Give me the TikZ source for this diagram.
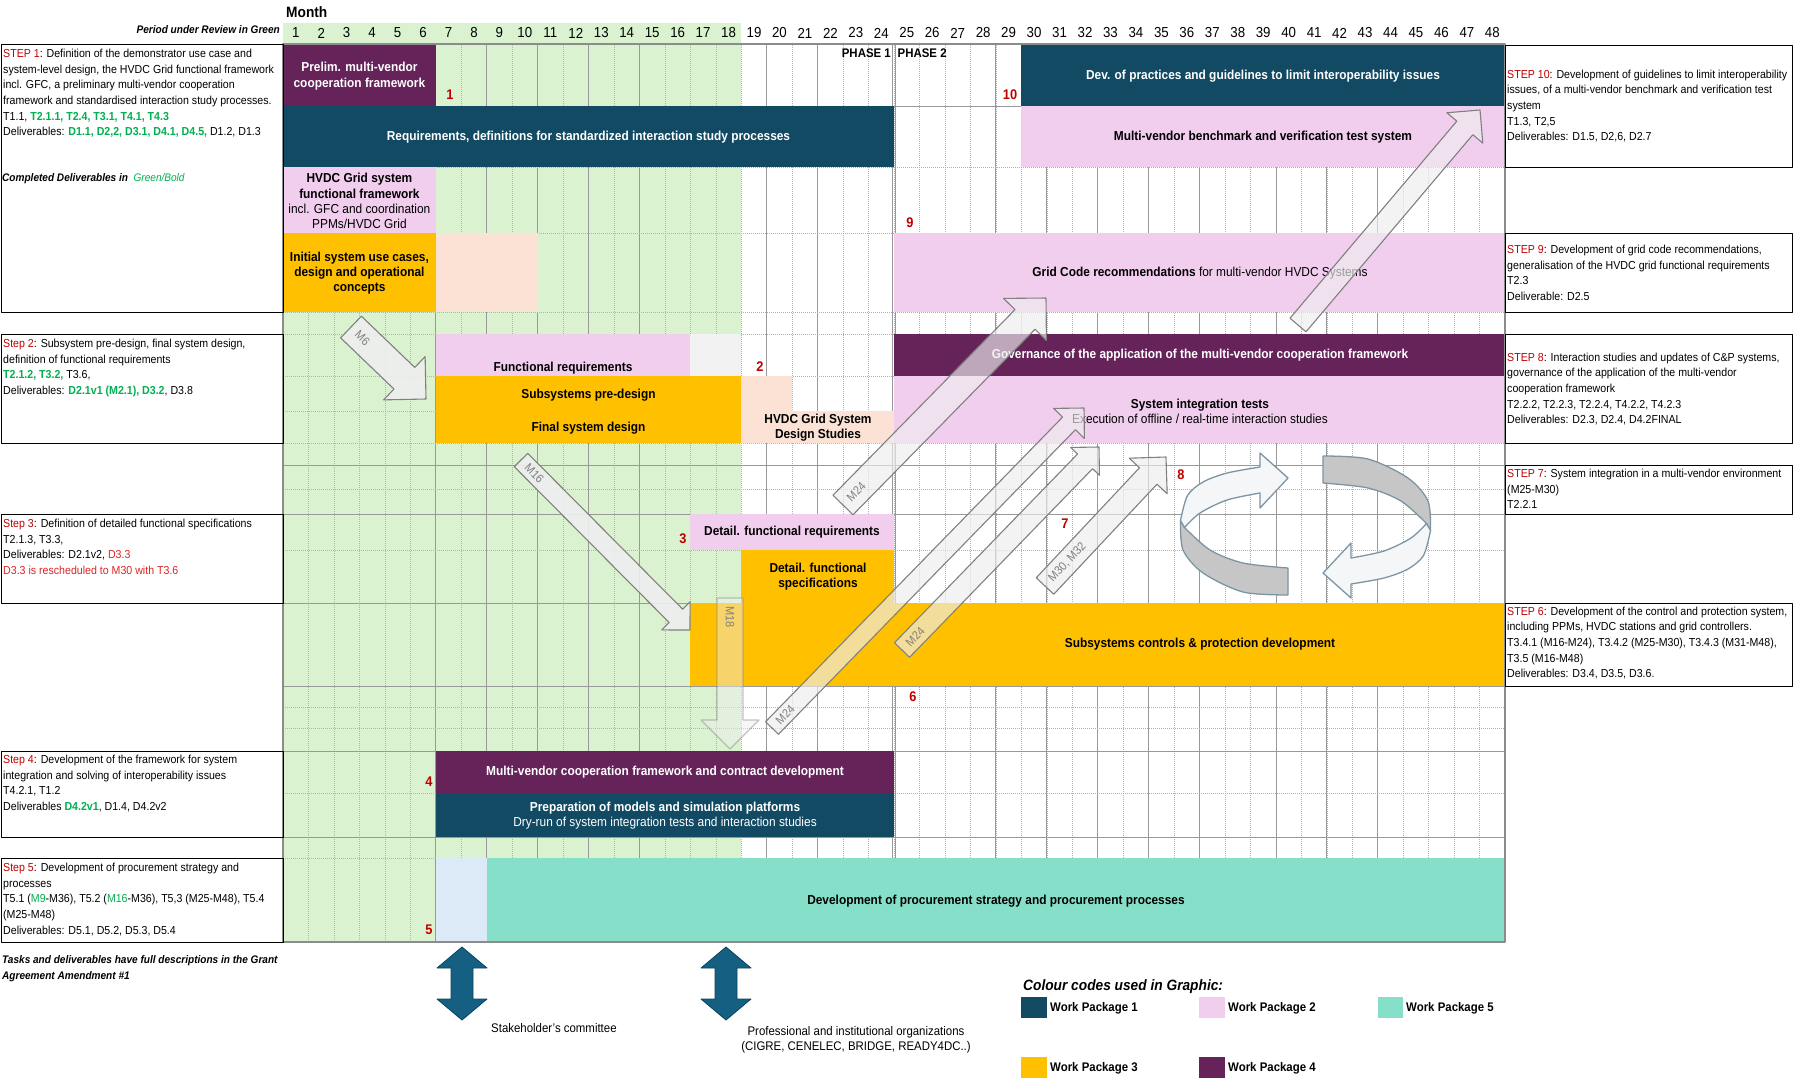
\documentclass[tikz,border=0pt]{standalone}
\usepackage{fontspec}
\setmainfont{Liberation Sans}[FakeStretch=0.915]
\usetikzlibrary{calc}

\definecolor{wpone}{HTML}{124A64}
\definecolor{wptwo}{HTML}{F1CEEE}
\definecolor{wpthree}{HTML}{FFC000}
\definecolor{wpfour}{HTML}{66235A}
\definecolor{wpfive}{HTML}{86E0C9}
\definecolor{review}{HTML}{DAF2D0}
\definecolor{peach}{HTML}{FBE2D5}
\definecolor{paleblue}{HTML}{DCEAF7}
\definecolor{palegray}{HTML}{F2F2F2}
\definecolor{stepred}{HTML}{C00000}
\definecolor{latered}{HTML}{E02424}
\definecolor{donegreen}{HTML}{00B050}
\definecolor{linkblue}{HTML}{156082}
\definecolor{cycleedge}{HTML}{7D95A3}
\definecolor{cyclefill}{HTML}{F4F6F8}

\newcommand{\stp}[1]{\textcolor{stepred}{#1}}
\newcommand{\donetxt}[1]{\textcolor{donegreen}{\bfseries #1}}

\tikzset{
  gridminor/.style={draw=gray!60, line width=0.6pt, dash pattern=on 1pt off 1pt},
  gridmajor/.style={draw=gray!80, line width=0.8pt},
  gridframe/.style={draw=gray!90, line width=2.4pt},
  stepframe/.style={draw=black, line width=1pt},
  monthnum/.style={font=\fontsize{14.5}{16}\selectfont, inner sep=0pt},
  bartext/.style={font=\fontsize{13}{15.3}\selectfont\bfseries, align=center, inner sep=0pt},
  barwhite/.style={bartext, text=white},
  steptext/.style={font=\fontsize{11.6}{15.6}\selectfont, align=left, inner sep=1pt},
  stepnum/.style={font=\fontsize{14}{16}\selectfont\bfseries, text=stepred, inner sep=0pt},
  milearrow/.style={draw=gray, fill=gray!13, line width=1.1pt},
  milelabel/.style={font=\fontsize{12}{13}\selectfont, text=gray, inner sep=1pt},
  cyclelight/.style={draw=cycleedge, fill=cyclefill, line width=1.3pt},
  cyclegray/.style={draw=cycleedge, fill=gray!45, line width=1.3pt},
  linkarrow/.style={draw=linkblue!70!black, fill=linkblue, line width=0.8pt},
  notetext/.style={font=\fontsize{11}{16}\selectfont\bfseries\itshape, align=left, inner sep=0pt},
  legendtext/.style={font=\fontsize{12.5}{14}\selectfont\bfseries, anchor=west, inner sep=0pt},
}

% block arrow: tail, tip, shaft half width, head half width, label, opacity
\newcommand{\milestone}[6]{%
  \coordinate (mt) at #1; \coordinate (mp) at #2;
  \coordinate (mh) at ($(mp)!#4pt!(mt)$);
  \filldraw[milearrow, #6]
    ($(mt)!#3pt!90:(mp)$) -- ($(mh)!#3pt!90:(mp)$) -- ($(mh)!#4pt!90:(mp)$) -- (mp)
    -- ($(mh)!#4pt!-90:(mp)$) -- ($(mh)!#3pt!-90:(mp)$) -- ($(mt)!#3pt!-90:(mp)$) -- cycle;
  \if\relax\detokenize{#5}\relax\else
  \path let \p1=($(mp)-(mt)$) in
    node[milelabel, rotate={atan2(\y1,\x1)}, anchor=west] at ($(mt)!7pt!(mp)$) {#5};
  \fi
}

\begin{document}
\begin{tikzpicture}[x=1pt, y=-1pt, line join=round]
\useasboundingbox (0,0) rectangle (1794,1080);
\fill[white] (0,0) rectangle (1794,1080);

% header
\node[anchor=west, font=\fontsize{15}{17}\selectfont\bfseries, inner sep=0pt] (month) at (286,12) {Month};
\node[anchor=east, font=\fontsize{11}{13}\selectfont\bfseries\itshape, inner sep=0pt] (period) at (280,30) {Period under Review in Green};
\fill[review] (283,23) rectangle (741.3,942);
\foreach \m in {1,...,48}
  \node[monthnum] (m\m) at ({283+(\m-0.5)*25.46},33) {\m};

% grid
\foreach \k in {1,...,47}
  \draw[gridminor] ({283+\k*25.46},45) -- ({283+\k*25.46},942);
\foreach \k in {6,8,10,12,14,19,21,28,30,32,34,36,39,41,43}
  \draw[gridmajor] ({283+\k*25.46},45) -- ({283+\k*25.46},942);
\foreach \y in {167,233,312,334,376,411,443,489,550,707,728,793,858}
  \draw[gridminor] (283,\y) -- (1505,\y);
\foreach \y in {106,465,514,603,686,751,837}
  \draw[gridmajor] (283,\y) -- (1505,\y);
\draw[gridmajor] (892.5,45) -- (892.5,942) (895.5,45) -- (895.5,942);

% bars
\fill[wpfour] (283,45) rectangle (435.8,106);
\node[barwhite] (prelim) at (359.4,76) {Prelim. multi-vendor\\cooperation framework};
\fill[wpone] (1021.3,45) rectangle (1505,106);
\node[barwhite] (devprac) at (1263,76) {Dev. of practices and guidelines to limit interoperability issues};
\fill[wpone] (283,106) rectangle (894,167);
\node[barwhite] (req) at (588.5,137) {Requirements, definitions for standardized interaction study processes};
\fill[wptwo] (1021.3,106) rectangle (1505,167);
\node[bartext] (bench) at (1263,137) {Multi-vendor benchmark and verification test system};
\fill[wptwo] (283,167) rectangle (435.8,233);
\node[bartext] (gridfw) at (359.4,201) {HVDC Grid system\\functional framework\\{\mdseries incl. GFC and coordination}\\{\mdseries PPMs/HVDC Grid}};
\fill[wpthree] (283,233) rectangle (435.8,312);
\node[bartext] (initial) at (359.4,273) {Initial system use cases,\\design and operational\\concepts};
\fill[peach] (435.8,233) rectangle (537.6,312);
\fill[wptwo] (894,233) rectangle (1505,312);
\node[bartext] (gridcode) at (1200,273) {Grid Code recommendations {\mdseries for multi-vendor HVDC Systems}};
\fill[wptwo] (435.8,334) rectangle (690.4,376);
\node[bartext] (funcreq) at (563,368) {Functional requirements};
\fill[palegray] (690.4,334) rectangle (741.3,376);
\fill[wpfour] (894,334) rectangle (1505,376);
\node[barwhite] (gov) at (1200,355) {Governance of the application of the multi-vendor cooperation framework};
\fill[wpthree] (435.8,376) rectangle (741.3,443);
\node[bartext] (predesign) at (588.5,395) {Subsystems pre-design};
\node[bartext] (finaldesign) at (588.5,428) {Final system design};
\fill[peach] (741.3,376) -- (792.2,376) -- (792.2,411) -- (894,411) -- (894,443) -- (741.3,443) -- cycle;
\node[bartext] (gridstudy) at (818,427.5) {HVDC Grid System\\Design Studies};
\fill[wptwo] (894,376) rectangle (1505,443);
\node[bartext] (sysint) at (1200,411) {System integration tests\\{\mdseries Execution of offline / real-time interaction studies}};
\fill[wptwo] (690.4,514) rectangle (894,550);
\node[bartext] (detreq) at (792,532) {Detail. functional requirements};
\fill[wpthree] (741.3,550) rectangle (894,603);
\node[bartext] (detspec) at (818,576.5) {Detail. functional\\specifications};
\fill[wpthree] (690.4,603) rectangle (1505,686);
\node[bartext] (controls) at (1200,644) {Subsystems controls \& protection development};
\fill[wpfour] (435.8,751) rectangle (894,793);
\node[barwhite] (coop) at (665,772) {Multi-vendor cooperation framework and contract development};
\fill[wpone] (435.8,793) rectangle (894,837);
\node[barwhite] (prep) at (665,815.5) {Preparation of models and simulation platforms\\{\mdseries Dry-run of system integration tests and interaction studies}};
\fill[paleblue] (435.8,858) rectangle (486.7,942);
\fill[wpfive] (486.7,858) rectangle (1505,942);
\node[bartext] (procure) at (996,901) {Development of procurement strategy and procurement processes};

\draw[gridframe] (283,44) rectangle (1505,942);

% phases and step numbers
\node[anchor=east, font=\fontsize{12.5}{14}\selectfont\bfseries, inner sep=0pt] (phaseone) at (891,53) {PHASE 1};
\node[anchor=west, font=\fontsize{12.5}{14}\selectfont\bfseries, inner sep=0pt] (phasetwo) at (897.5,53) {PHASE 2};
\node[stepnum] (n1) at (450,95) {1};
\node[stepnum] (n10) at (1010,95) {10};
\node[stepnum] (n9) at (910,223) {9};
\node[stepnum] (n2) at (760,367) {2};
\node[stepnum] (n3) at (683,539) {3};
\node[stepnum] (n7) at (1065,524) {7};
\node[stepnum] (n8) at (1181,475) {8};
\node[stepnum] (n6) at (913,697) {6};
\node[stepnum] (n4) at (429,782) {4};
\node[stepnum] (n5) at (429,930) {5};

% left step boxes
\draw[stepframe] (1,44) rectangle (283,312);
\draw[stepframe] (1,334) rectangle (283,443);
\draw[stepframe] (1,514) rectangle (283,603);
\draw[stepframe] (1,751) rectangle (283,837);
\draw[stepframe] (1,858) rectangle (283,942);
\node[steptext, anchor=north west] (stepone) at (2,48) {\stp{STEP 1}: Definition of the demonstrator use case and\\system-level design, the HVDC Grid functional framework\\incl. GFC, a preliminary multi-vendor cooperation\\framework and standardised interaction study processes.\\T1.1, \donetxt{T2.1.1, T2.4, T3.1, T4.1, T4.3}\\Deliverables: \donetxt{D1.1, D2,2, D3.1, D4.1, D4.5,} D1.2, D1.3};
\node[notetext, anchor=west] (completed) at (2,179) {Completed Deliverables in \ \textcolor{donegreen}{\mdseries Green/Bold}};
\node[steptext, anchor=north west] (steptwo) at (2,338) {\stp{Step 2}: Subsystem pre-design, final system design,\\definition of functional requirements\\\donetxt{T2.1.2, T3.2,} T3.6,\\Deliverables: \donetxt{D2.1v1 (M2.1), D3.2}, D3.8};
\node[steptext, anchor=north west] (stepthree) at (2,518) {\stp{Step 3}: Definition of detailed functional specifications\\T2.1.3, T3.3,\\Deliverables: D2.1v2, \textcolor{latered}{D3.3}\\\textcolor{latered}{D3.3 is rescheduled to M30 with T3.6}};
\node[steptext, anchor=north west] (stepfour) at (2,754) {\stp{Step 4}: Development of the framework for system\\integration and solving of interoperability issues\\T4.2.1, T1.2\\Deliverables \donetxt{D4.2v1}, D1.4, D4.2v2};
\node[steptext, anchor=north west] (stepfive) at (2,862) {\stp{Step 5}: Development of procurement strategy and\\processes\\T5.1 (\textcolor{donegreen}{M9}-M36), T5.2 (\textcolor{donegreen}{M16}-M36), T5,3 (M25-M48), T5.4\\(M25-M48)\\Deliverables: D5.1, D5.2, D5.3, D5.4};
\node[notetext, anchor=west] (tasksnote) at (2,969) {Tasks and deliverables have full descriptions in the Grant\\Agreement Amendment \#1};

% right step boxes
\draw[stepframe] (1505,45) rectangle (1792,167);
\draw[stepframe] (1505,233) rectangle (1792,312);
\draw[stepframe] (1505,334) rectangle (1792,443);
\draw[stepframe] (1505,465) rectangle (1792,514);
\draw[stepframe] (1505,603) rectangle (1792,686);
\node[steptext, anchor=west] (stepten) at (1506,106) {\stp{STEP 10}: Development of guidelines to limit interoperability\\issues, of a multi-vendor benchmark and verification test\\system\\T1.3, T2,5\\Deliverables: D1.5, D2,6, D2.7};
\node[steptext, anchor=west] (stepnine) at (1506,273) {\stp{STEP 9}: Development of grid code recommendations,\\generalisation of the HVDC grid functional requirements\\T2.3\\Deliverable: D2.5};
\node[steptext, anchor=west] (stepeight) at (1506,389) {\stp{STEP 8}: Interaction studies and updates of C\&P systems,\\governance of the application of the multi-vendor\\cooperation framework\\T2.2.2, T2.2.3, T2.2.4, T4.2.2, T4.2.3\\Deliverables: D2.3, D2.4, D4.2FINAL};
\node[steptext, anchor=west] (stepseven) at (1506,489) {\stp{STEP 7}: System integration in a multi-vendor environment\\(M25-M30)\\T2.2.1};
\node[steptext, anchor=west] (stepsix) at (1506,643) {\stp{STEP 6}: Development of the control and protection system,\\including PPMs, HVDC stations and grid controllers.\\T3.4.1 (M16-M24), T3.4.2 (M25-M30), T3.4.3 (M31-M48),\\T3.5 (M16-M48)\\Deliverables: D3.4, D3.5, D3.6.};

% milestone arrows
\milestone{(351,327)}{(426,399)}{15}{30}{M6}{fill opacity=0.9}
\milestone{(521,460)}{(690,630)}{9.5}{20}{M16}{fill opacity=0.9}
\milestone{(730,598)}{(730,749)}{13}{29}{M18}{opacity=0.45}
\milestone{(843,505)}{(1046,298)}{14}{30}{M24}{fill opacity=0.65}
\milestone{(772,728)}{(1084,408)}{9}{21.5}{M24}{fill opacity=0.65}
\milestone{(902,650)}{(1099,447)}{10.5}{20}{M24}{fill opacity=0.65}
\milestone{(1045,586)}{(1166,457)}{12}{26}{M30, M32}{fill opacity=0.65}
\milestone{(1298,325)}{(1480,110)}{10.5}{23.5}{}{fill opacity=0.65}

% iteration cycle
\begin{scope}[shift={(1305.5,525.5)}]
  \foreach \r in {0,180} {
    \begin{scope}[rotate=\r]
      \filldraw[cyclegray] plot[smooth] coordinates {(-121,2) (-95.5,24.5) (-62.5,37.5) (-17.5,42.5)}
        -- (-17.5,69.5) -- plot[smooth] coordinates {(-17.5,69.5) (-62.5,66.5) (-102.5,47.5) (-122.5,24.5) (-125,-5)} -- cycle;
      \filldraw[cyclelight] plot[smooth] coordinates {(-125,-5) (-118,-30) (-102.5,-43.5) (-78.5,-52.5) (-45.5,-58.5)}
        -- (-45.5,-72.5) -- (-17.5,-47.5) -- (-45.5,-17.5) -- (-45.5,-32.5)
        -- plot[smooth] coordinates {(-45.5,-32.5) (-78.5,-25.5) (-105.5,-12.5) (-121,2)} -- cycle;
    \end{scope}
  }
\end{scope}

% external links
\filldraw[linkarrow] (462,947) -- (487,968) -- (473,968) -- (473,999) -- (487,999) -- (462,1020)
  -- (437,999) -- (451,999) -- (451,968) -- (437,968) -- cycle;
\filldraw[linkarrow] (726,947) -- (751,968) -- (737,968) -- (737,999) -- (751,999) -- (726,1020)
  -- (701,999) -- (715,999) -- (715,968) -- (701,968) -- cycle;
\node[anchor=west, font=\fontsize{12.5}{14}\selectfont, inner sep=0pt] (stake) at (491,1028) {Stakeholder's committee};
\node[align=center, font=\fontsize{12.5}{15}\selectfont, inner sep=0pt] (prof) at (856,1040) {Professional and institutional organizations\\(CIGRE, CENELEC, BRIDGE, READY4DC..)};

% legend
\node[anchor=west, font=\fontsize{15}{17}\selectfont\bfseries\itshape, inner sep=0pt] (legend) at (1023,987) {Colour codes used in Graphic:};
\fill[wpone] (1021,997) rectangle (1047,1018);
\node[legendtext] (lwpone) at (1050,1008) {Work Package 1};
\fill[wptwo] (1199,997) rectangle (1225,1018);
\node[legendtext] (lwptwo) at (1228,1008) {Work Package 2};
\fill[wpfive] (1378,997) rectangle (1403,1018);
\node[legendtext] (lwpfive) at (1406,1008) {Work Package 5};
\fill[wpthree] (1021,1057) rectangle (1047,1078);
\node[legendtext] (lwpthree) at (1050,1068) {Work Package 3};
\fill[wpfour] (1199,1057) rectangle (1225,1078);
\node[legendtext] (lwpfour) at (1228,1068) {Work Package 4};
\end{tikzpicture}
\end{document}
